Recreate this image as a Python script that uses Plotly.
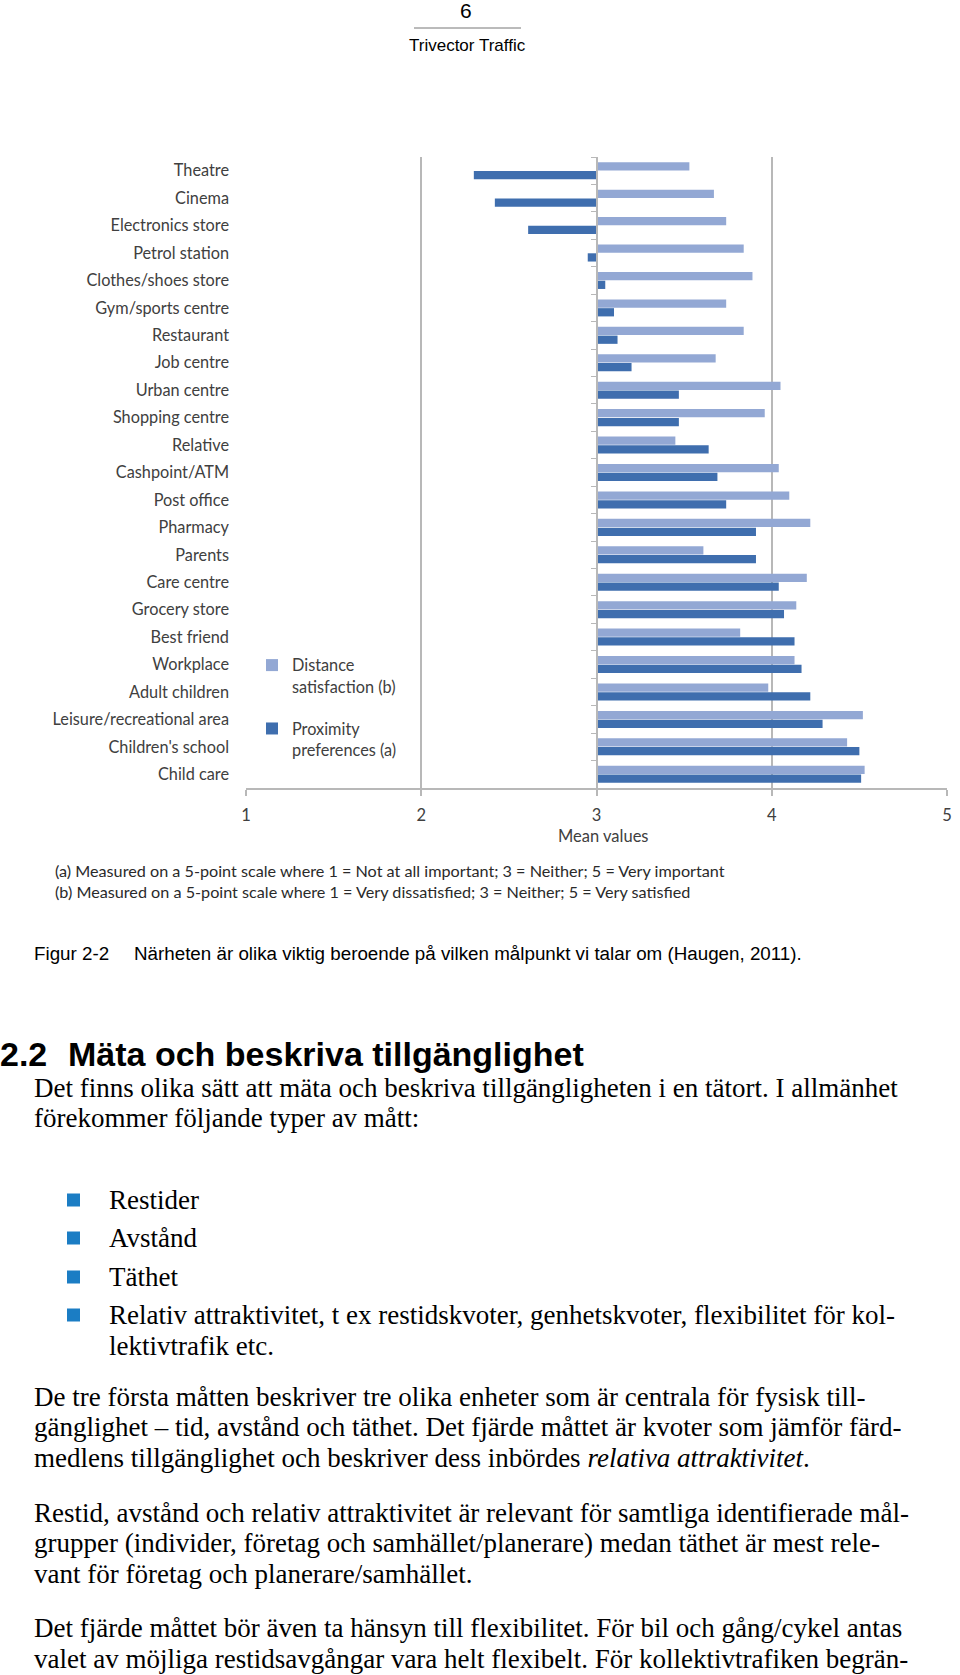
import plotly.graph_objects as go

# ---------------- data ----------------
categories = [
    "Theatre", "Cinema", "Electronics store", "Petrol station", "Clothes/shoes store",
    "Gym/sports centre", "Restaurant", "Job centre", "Urban centre", "Shopping centre",
    "Relative", "Cashpoint/ATM", "Post office", "Pharmacy", "Parents", "Care centre",
    "Grocery store", "Best friend", "Workplace", "Adult children",
    "Leisure/recreational area", "Children's school", "Child care",
]
distance_satisfaction = [3.53, 3.67, 3.74, 3.84, 3.89, 3.74, 3.84, 3.68, 4.05, 3.96, 3.45,
                         4.04, 4.10, 4.22, 3.61, 4.20, 4.14, 3.82, 4.13, 3.98, 4.52, 4.43, 4.53]
proximity_preferences = [2.30, 2.42, 2.61, 2.95, 3.05, 3.10, 3.12, 3.20, 3.47, 3.47, 3.64,
                         3.69, 3.74, 3.91, 3.91, 4.04, 4.07, 4.13, 4.17, 4.22, 4.29, 4.50, 4.51]
x_tick_values = [1, 2, 3, 4, 5]
midpoint = 3
series_names = ["Distance<br>satisfaction (b)", "Proximity<br>preferences (a)"]
footnotes = [
    "(a) Measured on a 5-point scale where 1 = Not at all important; 3 = Neither; 5 = Very important",
    "(b) Measured on a 5-point scale where 1 = Very dissatisfied; 3 = Neither; 5 = Very satisfied",
]

# ---------------- page geometry ----------------
W, H = 960, 1675
ML, MR, MT, MB = 246, 13, 157, 887
PW, PH = W - ML - MR, H - MT - MB


def px(xp):
    return (xp - ML) / PW


def py(yp):
    return (H - MB - yp) / PH


LIGHT = "#93A8D4"
DARK = "#3F6EAE"
GRID = "#b8b8b8"
LABEL = "#404040"
CHART_FONT = "Lato"
SERIF = "Liberation Serif"
SANS = "Liberation Sans"

fig = go.Figure()
fig.add_trace(go.Bar(
    y=categories, x=[v - midpoint for v in distance_satisfaction], base=midpoint,
    orientation="h", name=series_names[0], marker=dict(color=LIGHT, line=dict(width=0)),
    legendgroup="a",
))
fig.add_trace(go.Bar(
    y=categories, x=[v - midpoint for v in proximity_preferences], base=midpoint,
    orientation="h", name=series_names[1], marker=dict(color=DARK, line=dict(width=0)),
    legendgroup="b",
))
# helper (invisible) trace that gives the category axis drawn at x = 3 its categories
fig.add_trace(go.Scatter(
    y=categories, x=[None] * len(categories), yaxis="y2", mode="markers",
    showlegend=False, hoverinfo="skip",
))

n = len(categories)

fig.update_layout(
    width=W, height=H, autosize=False,
    margin=dict(l=ML, r=MR, t=MT, b=MB, pad=0),
    paper_bgcolor="white", plot_bgcolor="white",
    barmode="group", bargap=0.36, bargroupgap=0.06,
    font=dict(family=CHART_FONT, size=16, color=LABEL),
    xaxis=dict(
        range=[1, 5], tickvals=x_tick_values, showgrid=True, gridcolor=GRID, gridwidth=1.5,
        zeroline=False, showline=True, linecolor=GRID, linewidth=1.5,
        ticks="outside", ticklen=6, tickcolor=GRID, tickwidth=1.5,
        tickfont=dict(family=CHART_FONT, size=16.5, color=LABEL),
        ticklabelstandoff=5, automargin=False, fixedrange=True,
    ),
    yaxis=dict(
        type="category", categoryorder="array", categoryarray=categories,
        range=[n - 0.5, -0.5], showgrid=False, zeroline=False, showline=False,
        ticks="", tickfont=dict(family=CHART_FONT, size=16.3, color=LABEL),
        ticklabelstandoff=16, automargin=False, fixedrange=True,
    ),
    yaxis2=dict(
        type="category", categoryorder="array", categoryarray=categories,
        range=[n - 0.5, -0.5], overlaying="y", anchor="free", position=0.5,
        side="left", showgrid=False, zeroline=False, showline=True, linecolor=GRID,
        linewidth=1.5, ticks="outside", tickson="boundaries", ticklen=5, tickcolor=GRID,
        tickwidth=1, showticklabels=False, automargin=False, fixedrange=True,
    ),
    legend=dict(
        x=px(252), y=py(648), xanchor="left", yanchor="top",
        bgcolor="rgba(0,0,0,0)", font=dict(family=CHART_FONT, size=16.3, color=LABEL),
        traceorder="grouped", tracegroupgap=18, valign="top", itemwidth=30,
    ),
    showlegend=True,
)

annotations = []


def add_text(text, x, y, size, family, color="#111111", xanchor="left", weight="normal"):
    annotations.append(dict(
        text=text, x=px(x), y=py(y), xref="paper", yref="paper", showarrow=False,
        xanchor=xanchor, yanchor="middle", align="left",
        font=dict(family=family, size=size, color=color, weight=weight),
    ))


# header
add_text("6", 466, 11, 21, SANS, "#000000", "center")
add_text("Trivector Traffic", 467, 46, 17, SANS, "#000000", "center")

# chart axis title and footnotes
add_text("Mean values", 603, 836, 16.5, CHART_FONT, LABEL, "center")
add_text(footnotes[0], 53, 870, 16.2, CHART_FONT, "#2a2a2a")
add_text(footnotes[1], 53, 891, 16.2, CHART_FONT, "#2a2a2a")

# caption
add_text("Figur 2-2", 32, 953, 18.8, SANS, "#000000")
add_text("Närheten är olika viktig beroende på vilken målpunkt vi talar om (Haugen, 2011).",
         132, 953, 18.8, SANS, "#000000")

# heading
add_text("2.2", -2, 1054, 34, SANS, "#000000", weight="bold")
add_text("Mäta och beskriva tillgänglighet", 66, 1054, 34, SANS, "#000000", weight="bold")

# body text
body = [
    ("Det finns olika sätt att mäta och beskriva tillgängligheten i en tätort. I allmänhet", 32, 1088),
    ("förekommer följande typer av mått:", 32, 1118),
    ("Restider", 107, 1200),
    ("Avstånd", 107, 1238),
    ("Täthet", 107, 1277),
    ("Relativ attraktivitet, t ex restidskvoter, genhetskvoter, flexibilitet för kol-", 107, 1315),
    ("lektivtrafik etc.", 107, 1346),
    ("De tre första måtten beskriver tre olika enheter som är centrala för fysisk till-", 32, 1397),
    ("gänglighet – tid, avstånd och täthet. Det fjärde måttet är kvoter som jämför färd-", 32, 1427),
    ("medlens tillgänglighet och beskriver dess inbördes <i>relativa attraktivitet</i>.", 32, 1458),
    ("Restid, avstånd och relativ attraktivitet är relevant för samtliga identifierade mål-", 32, 1513),
    ("grupper (individer, företag och samhället/planerare) medan täthet är mest rele-", 32, 1543),
    ("vant för företag och planerare/samhället.", 32, 1574),
    ("Det fjärde måttet bör även ta hänsyn till flexibilitet. För bil och gång/cykel antas", 32, 1628),
    ("valet av möjliga restidsavgångar vara helt flexibelt. För kollektivtrafiken begrän-", 32, 1659),
]
for t, x, y in body:
    add_text(t, x, y, 27, SERIF, "#000000")

fig.update_layout(annotations=annotations)

shapes = [
    dict(type="line", xref="paper", yref="paper", x0=px(414), x1=px(521), y0=py(28), y1=py(28),
         line=dict(color="#777777", width=1)),
]
for yb in [1200, 1238, 1277, 1315]:
    shapes.append(dict(type="rect", xref="paper", yref="paper",
                       x0=px(67), x1=px(80), y0=py(yb - 6.5), y1=py(yb + 6.5),
                       fillcolor="#1B7DC4", line=dict(width=0)))
fig.update_layout(shapes=shapes)

fig.write_html(
    "out.html",
    config={"displayModeBar": False},
    post_script="document.body.style.margin='0px';document.body.style.overflow='hidden';",
)
